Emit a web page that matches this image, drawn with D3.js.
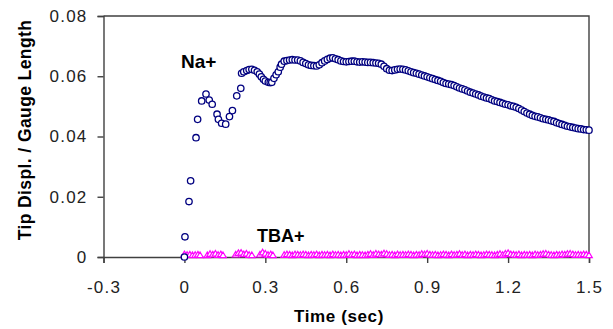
<!DOCTYPE html>
<html>
<head>
<meta charset="utf-8">
<script src="https://cdn.jsdelivr.net/npm/d3@7"></script>
<style>
    html, body { margin: 0; padding: 0; background: #fff; }
    svg { display: block; }
    .tick text { font-family: "Liberation Sans", Arial, sans-serif; font-size: 17px; fill: #222; letter-spacing: 1.2px; }
    .title { font-family: "Liberation Sans", Arial, sans-serif; font-weight: bold; fill: #000; }
</style>
</head>
<body>
<div id="viewport"></div>
<script>
// Na+ series (time in sec, tip displacement / gauge length)
const naTime = [
    0, 0.002, 0.017, 0.023, 0.043, 0.049, 0.064, 0.080, 0.092, 0.103,
    0.121, 0.126, 0.138, 0.153, 0.167, 0.178, 0.194, 0.209,
    0.212, 0.22, 0.231, 0.24, 0.250, 0.26, 0.270, 0.278, 0.285, 0.293,
    0.30, 0.311, 0.318, 0.324, 0.332, 0.34, 0.348, 0.355,
    0.36, 0.37, 0.38, 0.39, 0.40, 0.41, 0.42, 0.43, 0.44, 0.45,
    0.46, 0.47, 0.48, 0.49, 0.50, 0.51, 0.52, 0.53, 0.54, 0.55,
    0.56, 0.57, 0.58, 0.59, 0.60, 0.61, 0.62, 0.63, 0.64, 0.65,
    0.66, 0.67, 0.68, 0.69, 0.70, 0.71, 0.72, 0.73, 0.74, 0.75,
    0.76, 0.77, 0.78, 0.79, 0.80, 0.81, 0.82, 0.83, 0.84, 0.85,
    0.86, 0.87, 0.88, 0.89, 0.90, 0.91, 0.92, 0.93, 0.94, 0.95,
    0.96, 0.97, 0.98, 0.99, 1.00, 1.01, 1.02, 1.03, 1.04, 1.05,
    1.06, 1.07, 1.08, 1.09, 1.10, 1.11, 1.12, 1.13, 1.14, 1.15,
    1.16, 1.17, 1.18, 1.19, 1.20, 1.21, 1.22, 1.23, 1.24, 1.25,
    1.26, 1.27, 1.28, 1.29, 1.30, 1.31, 1.32, 1.33, 1.34, 1.35,
    1.36, 1.37, 1.38, 1.39, 1.40, 1.41, 1.42, 1.43, 1.44, 1.45,
    1.46, 1.47, 1.48, 1.49, 1.50
];
const naValue = [
    0, 0.0067, 0.0184, 0.0253, 0.0396, 0.0457, 0.0518, 0.0541, 0.0521, 0.0507,
    0.0474, 0.0457, 0.0444, 0.0441, 0.0466, 0.0486, 0.0535, 0.0560,
    0.0610, 0.0615, 0.0619, 0.0622, 0.0623, 0.0620, 0.0615, 0.0607, 0.0598, 0.0590,
    0.0584, 0.0580, 0.0579, 0.0580, 0.0593, 0.0605, 0.0615, 0.0630,
    0.0640, 0.0650, 0.0652, 0.0654, 0.0655, 0.0654, 0.0654, 0.0651, 0.0646, 0.0642,
    0.0638, 0.0636, 0.0635, 0.0634, 0.0638, 0.0645, 0.0651, 0.0656, 0.0660, 0.0661,
    0.0658, 0.0655, 0.0651, 0.0649, 0.0648, 0.0649, 0.0650, 0.0650, 0.0648, 0.0647,
    0.0648, 0.0647, 0.0646, 0.0646, 0.0645, 0.0644, 0.0643, 0.0640, 0.0633, 0.0625,
    0.0620, 0.0619, 0.0621, 0.0623, 0.0624, 0.0623, 0.0621, 0.0618, 0.0615, 0.0612,
    0.0610, 0.0607, 0.0604, 0.0601, 0.0598, 0.0595, 0.0592, 0.0589, 0.0586, 0.0583,
    0.0579, 0.0576, 0.0574, 0.0572, 0.0569, 0.0565, 0.0561, 0.0558, 0.0555, 0.0551,
    0.0547, 0.0544, 0.0541, 0.0538, 0.0534, 0.0531, 0.0528, 0.0526, 0.0522, 0.0518,
    0.0516, 0.0513, 0.0510, 0.0507, 0.0505, 0.0502, 0.0500, 0.0497, 0.0493, 0.0488,
    0.0483, 0.0478, 0.0474, 0.0470, 0.0467, 0.0465, 0.0462, 0.0459, 0.0457, 0.0455,
    0.0452, 0.0450, 0.0446, 0.0443, 0.0440, 0.0437, 0.0434, 0.0432, 0.0430, 0.0428,
    0.0426, 0.0425, 0.0423, 0.0422, 0.0421
];

// TBA+ series, stays near zero (gaps before 0.37 s)
const tbaTime = [
    0, 0.010, 0.020, 0.030, 0.040, 0.050, 0.058,
    0.085, 0.095, 0.105, 0.115, 0.125, 0.135, 0.143,
    0.190, 0.200, 0.210, 0.220, 0.230, 0.240, 0.250,
    0.280, 0.290, 0.300, 0.310, 0.320, 0.328,
    0.37, 0.38, 0.39, 0.40, 0.41, 0.42, 0.43, 0.44, 0.45, 0.46,
    0.47, 0.48, 0.49, 0.50, 0.51, 0.52, 0.53, 0.54, 0.55, 0.56,
    0.57, 0.58, 0.59, 0.60, 0.61, 0.62, 0.63, 0.64, 0.65, 0.66,
    0.67, 0.68, 0.69, 0.70, 0.71, 0.72, 0.73, 0.74, 0.75, 0.76,
    0.77, 0.78, 0.79, 0.80, 0.81, 0.82, 0.83, 0.84, 0.85, 0.86,
    0.87, 0.88, 0.89, 0.90, 0.91, 0.92, 0.93, 0.94, 0.95, 0.96,
    0.97, 0.98, 0.99, 1.00, 1.01, 1.02, 1.03, 1.04, 1.05, 1.06,
    1.07, 1.08, 1.09, 1.10, 1.11, 1.12, 1.13, 1.14, 1.15, 1.16,
    1.17, 1.18, 1.19, 1.20, 1.21, 1.22, 1.23, 1.24, 1.25, 1.26,
    1.27, 1.28, 1.29, 1.30, 1.31, 1.32, 1.33, 1.34, 1.35, 1.36,
    1.37, 1.38, 1.39, 1.40, 1.41, 1.42, 1.43, 1.44, 1.45, 1.46,
    1.47, 1.48, 1.49, 1.50
];
const tbaValue = [
    0.0004, 0.0002, 0.0003, 0.0001, 0.0002, 0.0003, 0.0001,
    0.0001, 0.0005, 0.0003, 0.0006, 0.0002, 0.0004, 0.0001,
    0.0003, 0.0008, 0.0009, 0.0004, 0.0006, 0.0002, 0.0001,
    0.0003, 0.0010, 0.0006, 0.0002, 0.0004, 0.0001,
    0.0002, 0.0004, 0.0003, 0.0001, 0.0004, 0.0003, 0.0002, 0.0004, 0.0003, 0.0001,
    0.0003, 0.0002, 0.0004, 0.0001, 0.0003, 0.0002, 0.0003, 0.0001, 0.0004, 0.0002,
    0.0003, 0.0001, 0.0003, 0.0002, 0.0005, 0.0002, 0.0004, 0.0001, 0.0003, 0.0002,
    0.0001, 0.0003, 0.0005, 0.0002, 0.0006, 0.0004, 0.0003, 0.0007, 0.0005, 0.0002,
    0.0003, 0.0001, 0.0004, 0.0002, 0.0003, 0.0002, 0.0004, 0.0003, 0.0001, 0.0003,
    0.0002, 0.0005, 0.0004, 0.0006, 0.0003, 0.0002, 0.0003, 0.0001, 0.0002, 0.0004,
    0.0003, 0.0001, 0.0004, 0.0002, 0.0003, 0.0005, 0.0002, 0.0004, 0.0001, 0.0003,
    0.0002, 0.0004, 0.0003, 0.0001, 0.0002, 0.0004, 0.0003, 0.0002, 0.0001, 0.0003,
    0.0005, 0.0002, 0.0006, 0.0008, 0.0004, 0.0003, 0.0002, 0.0004, 0.0001, 0.0003,
    0.0002, 0.0003, 0.0001, 0.0004, 0.0002, 0.0003, 0.0005, 0.0006, 0.0003, 0.0002,
    0.0001, 0.0003, 0.0002, 0.0004, 0.0003, 0.0005, 0.0006, 0.0004, 0.0002, 0.0003,
    0.0002, 0.0004, 0.0003, 0.0001
];

const xTicks = [-0.3, 0, 0.3, 0.6, 0.9, 1.2, 1.5];
const yTicks = [0, 0.02, 0.04, 0.06, 0.08];

const width = 613, height = 329;
const margin = { top: 16, right: 24, bottom: 72, left: 103.5 };
const frameColor = "#404040";

const svg = d3.select("#viewport")
    .append("svg")
    .attr("width", width)
    .attr("height", height);

const x = d3.scaleLinear().domain([-0.3, 1.5]).range([margin.left, width - margin.right]);
const y = d3.scaleLinear().domain([0, 0.08]).range([height - margin.bottom, margin.top]);

const fmt = d => d === 0 ? "0" : String(d);

// axes
svg.append("g")
    .attr("transform", `translate(${margin.left},0)`)
    .call(d3.axisLeft(y).tickValues(yTicks).tickSize(6).tickPadding(10).tickFormat(fmt))
    .call(g => g.selectAll("line, path").attr("stroke", frameColor).attr("stroke-width", 1.4));

svg.append("g")
    .attr("transform", `translate(0,${y(0)})`)
    .call(d3.axisBottom(x).tickValues(xTicks).tickSize(6).tickPadding(18).tickFormat(fmt))
    .call(g => g.selectAll("line, path").attr("stroke", frameColor).attr("stroke-width", 1.4));

// top and right frame
svg.append("path")
    .attr("d", `M${x(-0.3)},${y(0.08)} H${x(1.5)} V${y(0)}`)
    .attr("fill", "none")
    .attr("stroke", frameColor)
    .attr("stroke-width", 1.4);

// TBA+ markers (open triangles)
const tri = "M0,-3.2 L3.3,2.4 L-3.3,2.4 Z";
svg.append("g").selectAll("path")
    .data(tbaTime.map((t, i) => ({ t, v: tbaValue[i] })))
    .join("path")
    .attr("d", tri)
    .attr("transform", d => `translate(${x(d.t)},${y(d.v) - 1.5})`)
    .attr("fill", "#fff")
    .attr("stroke", "#ff00ff")
    .attr("stroke-width", 1.2);

// Na+ markers (open circles)
svg.append("g").selectAll("circle")
    .data(naTime.map((t, i) => ({ t, v: naValue[i] })))
    .join("circle")
    .attr("cx", d => x(d.t))
    .attr("cy", d => y(d.v))
    .attr("r", 3.2)
    .attr("fill", "#fff")
    .attr("stroke", "#000080")
    .attr("stroke-width", 1.3);

// series labels
svg.append("text").attr("class", "title")
    .attr("x", 181).attr("y", 68)
    .style("font-size", "19px")
    .text("Na+");
svg.append("text").attr("class", "title")
    .attr("x", 257).attr("y", 242)
    .style("font-size", "18px")
    .text("TBA+");

// axis titles
svg.append("text").attr("class", "title")
    .attr("text-anchor", "middle")
    .attr("x", 339).attr("y", 322)
    .style("font-size", "17px")
    .style("letter-spacing", "0.6px")
    .text("Time (sec)");
svg.append("text").attr("class", "title")
    .attr("text-anchor", "middle")
    .attr("transform", `translate(31,130) rotate(-90)`)
    .style("font-size", "17.5px")
    .style("letter-spacing", "0.4px")
    .text("Tip Displ. / Gauge Length");
</script>
</body>
</html>
